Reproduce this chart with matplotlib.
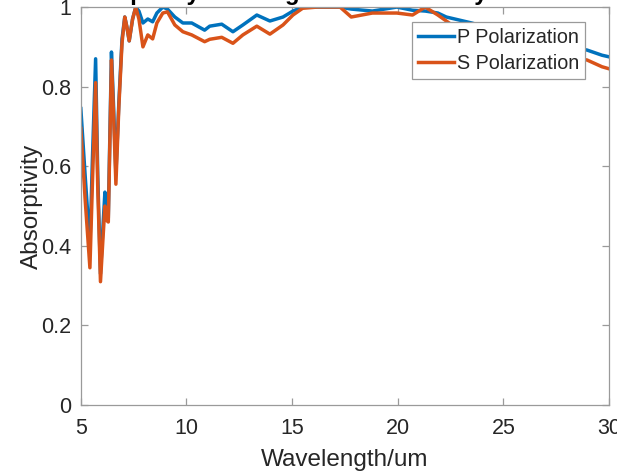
import matplotlib.pyplot as plt

# wavelength in um
wavelength = [5.0, 5.2, 5.43, 5.55, 5.7, 5.8, 5.93, 6.05, 6.14, 6.2, 6.3, 6.45, 6.55, 6.66, 6.8,
              6.95, 7.08, 7.18, 7.29, 7.45, 7.6, 7.75, 7.94, 8.17, 8.4, 8.6, 8.88, 9.1, 9.45, 9.83,
              10.25, 10.86, 11.1, 11.67, 12.2, 12.67, 13.33, 13.95, 14.57, 15.04, 15.5, 16.2, 17.27,
              17.8, 18.8, 19.96, 20.7, 21.3, 21.9, 22.3, 22.7, 23.5, 24.5, 25.5, 26.5, 27.5, 28.96,
              29.67, 30.0]
p_pol = [0.745, 0.58, 0.40, 0.62, 0.87, 0.58, 0.33, 0.45, 0.535, 0.47, 0.47, 0.887, 0.75, 0.58, 0.76,
         0.92, 0.975, 0.95, 0.915, 0.97, 1.0, 0.99, 0.96, 0.97, 0.963, 0.985, 1.0, 0.995, 0.975, 0.96,
         0.96, 0.942, 0.952, 0.957, 0.938, 0.955, 0.98, 0.965, 0.975, 0.99, 1.0, 1.0, 1.0,
         0.995, 0.99, 1.0, 0.992, 0.99, 0.985, 0.975, 0.97, 0.96, 0.945, 0.93, 0.915, 0.905, 0.892,
         0.879, 0.875]
s_pol = [0.695, 0.52, 0.345, 0.56, 0.81, 0.55, 0.31, 0.42, 0.50, 0.465, 0.46, 0.867, 0.73, 0.555, 0.75,
         0.91, 0.975, 0.95, 0.915, 0.97, 1.0, 0.97, 0.90, 0.93, 0.92, 0.96, 0.985, 0.988, 0.955, 0.938,
         0.93, 0.913, 0.919, 0.924, 0.909, 0.93, 0.952, 0.932, 0.955, 0.98, 0.997, 1.0, 1.0,
         0.975, 0.985, 0.985, 0.98, 1.0, 0.98, 0.965, 0.95, 0.935, 0.92, 0.905, 0.89, 0.88, 0.867,
         0.85, 0.845]
xticks = [5, 10, 15, 20, 25, 30]
yticks = [0, 0.2, 0.4, 0.6, 0.8, 1]
yticklabels = ['0', '0.2', '0.4', '0.6', '0.8', '1']

plt.rcParams['font.family'] = ['Liberation Sans', 'DejaVu Sans']
txt = '#262626'
edge = '#9a9a9a'

fig = plt.figure(figsize=(6.17, 4.71), dpi=100)
ax = fig.add_axes([0.131, 0.140, 0.856, 0.845])
ax.plot(wavelength, p_pol, color=(0, 0.447, 0.741), lw=2.5, label='P Polarization')
ax.plot(wavelength, s_pol, color=(0.85, 0.325, 0.098), lw=2.5, label='S Polarization')
ax.set_xlim(5, 30)
ax.set_ylim(0, 1)
ax.set_xticks(xticks)
ax.set_yticks(yticks)
ax.set_yticklabels(yticklabels)
for s in ax.spines.values():
    s.set_color(edge)
    s.set_linewidth(0.9)
ax.tick_params(direction='in', length=5, width=0.9, color=edge, labelcolor=txt,
               labelsize=15.5, top=True, right=True)
ax.tick_params(axis='x', pad=9)
ax.tick_params(axis='y', pad=7)
ax.set_xlabel('Wavelength/um', fontsize=17.5, color=txt, va='center')
ax.set_ylabel('Absorptivity', fontsize=17.5, color=txt, va='center')
ax.xaxis.set_label_coords(0.5, -0.137)
ax.yaxis.set_label_coords(-0.092, 0.5)

# title is cut off at the top of the picture
fig.text(0.559, 0.999, 'Absorptivity of Designed Structure by Polarization', ha='center',
         va='baseline', fontsize=17, weight='bold', color='black')

leg = ax.legend(loc='upper right', bbox_to_anchor=(0.955, 0.962), borderaxespad=0,
                fontsize=14.2, fancybox=False, framealpha=1, edgecolor=edge,
                handlelength=1.85, handletextpad=0.15, borderpad=0.3, labelspacing=0.35)
leg.get_frame().set_linewidth(0.9)
for t in leg.get_texts():
    t.set_color(txt)

plt.savefig('out.png', dpi=100)
